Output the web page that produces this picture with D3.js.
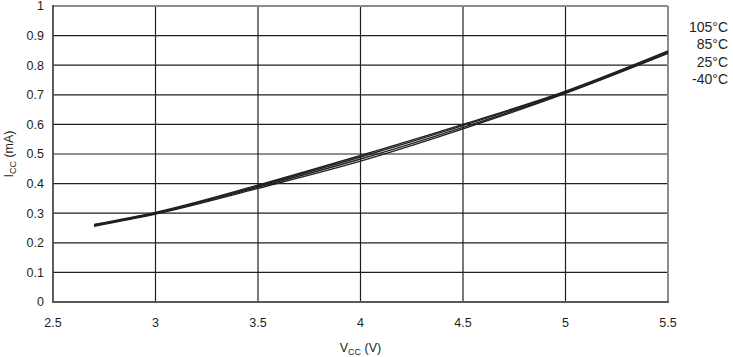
<!DOCTYPE html>
<html><head><meta charset="utf-8">
<script src="https://cdn.jsdelivr.net/npm/d3@7"></script>
<style>body{margin:0;background:#fff}text{font-family:"Liberation Sans",Arial,sans-serif;fill:#231f20}</style>
</head><body><svg id="c" width="733" height="357"></svg>
<script>
const vcc = [2.7, 3.0, 3.5, 4.0, 4.5, 5.0, 5.5];
const icc105 = [0.262, 0.303, 0.395, 0.495, 0.600, 0.712, 0.848];
const icc85  = [0.260, 0.301, 0.392, 0.490, 0.596, 0.710, 0.845];
const icc25  = [0.258, 0.299, 0.388, 0.483, 0.590, 0.707, 0.842];
const iccM40 = [0.256, 0.297, 0.384, 0.476, 0.585, 0.705, 0.840];
const seriesNames = ["105°C", "85°C", "25°C", "-40°C"];
const xTicks = [2.5, 3, 3.5, 4, 4.5, 5, 5.5];
const yTicks = [0, 0.1, 0.2, 0.3, 0.4, 0.5, 0.6, 0.7, 0.8, 0.9, 1];

const svg = d3.select("#c");
const L = 53, R = 668, T = 6, B = 302;
const x = d3.scaleLinear().domain([2.5, 5.5]).range([L, R]);
const y = d3.scaleLinear().domain([0, 1]).range([B, T]);

// grid
svg.append("g").selectAll("line").data(xTicks.slice(1, -1)).join("line")
  .attr("x1", d => x(d)).attr("x2", d => x(d)).attr("y1", T).attr("y2", B)
  .attr("stroke", "#231f20").attr("stroke-width", 1.2);
svg.append("g").selectAll("line").data(yTicks.slice(1, -1)).join("line")
  .attr("y1", d => y(d)).attr("y2", d => y(d)).attr("x1", L).attr("x2", R)
  .attr("stroke", "#231f20").attr("stroke-width", 1.2);

// frame
svg.append("line").attr("x1", L).attr("x2", R).attr("y1", T).attr("y2", T).attr("stroke", "#8a8c8e").attr("stroke-width", 2);
svg.append("line").attr("x1", R).attr("x2", R).attr("y1", T).attr("y2", B).attr("stroke", "#8a8c8e").attr("stroke-width", 2);
svg.append("line").attr("x1", L).attr("x2", L).attr("y1", T - 1).attr("y2", B + 1).attr("stroke", "#4a4a4a").attr("stroke-width", 1.8);
svg.append("line").attr("x1", L).attr("x2", R + 1).attr("y1", B).attr("y2", B).attr("stroke", "#58595b").attr("stroke-width", 2);

// series
const allSeries = [icc105, icc85, icc25, iccM40];
const line = d3.line().x((d, i) => x(vcc[i])).y(d => y(d)).curve(d3.curveMonotoneX);
svg.append("g").selectAll("path").data(allSeries).join("path")
  .attr("d", d => line(d)).attr("fill", "none")
  .attr("stroke", "#231f20").attr("stroke-width", 1.4);

// axes tick labels
svg.append("g").selectAll("text").data(yTicks).join("text")
  .attr("x", 44).attr("y", d => y(d)).attr("dy", "0.35em")
  .attr("text-anchor", "end").attr("font-size", 12.5)
  .text(d => d3.format("~g")(d));
svg.append("g").selectAll("text").data(xTicks).join("text")
  .attr("x", d => x(d)).attr("y", 323).attr("dy", "0.35em")
  .attr("text-anchor", "middle").attr("font-size", 12.5)
  .text(d => d3.format("~g")(d));

// axis titles
const yt = svg.append("text").attr("transform", `translate(13,${(T + B) / 2}) rotate(-90)`)
  .attr("text-anchor", "middle").attr("font-size", 12.5);
yt.append("tspan").text("I");
yt.append("tspan").attr("font-size", 9).attr("dy", 3).text("CC");
yt.append("tspan").attr("dy", -3).text(" (mA)");
const xt = svg.append("text").attr("x", (L + R) / 2).attr("y", 352)
  .attr("text-anchor", "middle").attr("font-size", 12.5);
xt.append("tspan").text("V");
xt.append("tspan").attr("font-size", 9).attr("dy", 3).text("CC");
xt.append("tspan").attr("dy", -3).text(" (V)");

// legend labels
svg.append("g").selectAll("text").data(seriesNames).join("text")
  .attr("x", 728).attr("y", (d, i) => 27 + i * 17.5).attr("dy", "0.35em")
  .attr("text-anchor", "end").attr("font-size", 14)
  .text(d => d);
</script></body></html>
